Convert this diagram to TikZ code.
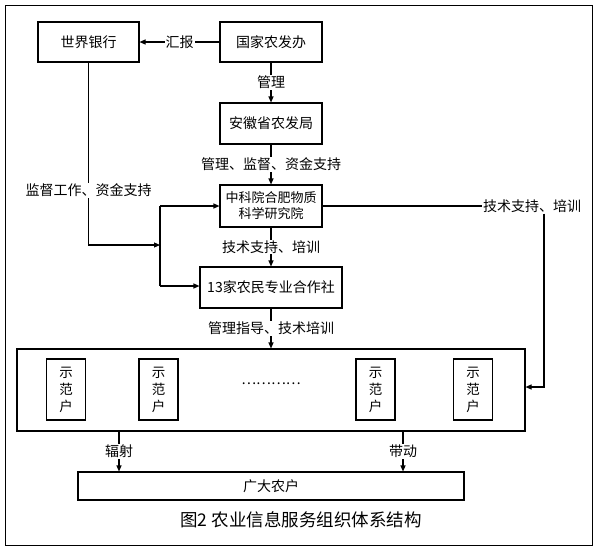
\documentclass[tikz,border=0pt]{standalone}
\usepackage{fontspec}
\setmainfont{Noto Sans CJK SC}
\usetikzlibrary{arrows.meta,positioning}

\begin{document}
\begin{tikzpicture}[x=1pt,y=-1pt,box/.style={draw,line width=1.1pt,inner sep=0pt,font=\fontsize{14}{16}\selectfont},lbl/.style={fill=white,inner sep=1pt,font=\fontsize{14}{16}\selectfont},arr/.style={line width=1.1pt,-{Triangle[length=6pt,width=5pt]}},demo/.style={draw,line width=1.1pt,minimum width=39pt,minimum height=61pt,inner sep=0pt,align=center,font=\fontsize{13.5}{17}\selectfont}]
\useasboundingbox (0,0) rectangle (597,550);
\draw[line width=0.8pt] (5,5) rectangle (592,545);
\node[box,minimum width=101pt,minimum height=40pt] (wb) at (88.5,42) {世界银行};
\node[box,minimum width=102pt,minimum height=40pt] (nat) at (271,42) {国家农发办};
\node[box,minimum width=102pt,minimum height=41pt] (ah) at (271,123.5) {安徽省农发局};
\node[box,minimum width=102pt,minimum height=42pt,align=center,font=\fontsize{13}{16}\selectfont] (cas) at (271,206) {中科院合肥物质\\科学研究院};
\node[box,minimum width=142pt,minimum height=41pt] (coop) at (271,287.5) {13家农民专业合作社};
\node[box,minimum width=508pt,minimum height=82pt] (all) at (271,390) {};
\node[demo] (d1) at (66,389.5) {示\\范\\户};
\node[demo] (d2) at (158.5,389.5) {示\\范\\户};
\node[demo] (d3) at (375.5,389.5) {示\\范\\户};
\node[demo] (d4) at (473,389.5) {示\\范\\户};
\node[font=\fontsize{14}{16}\selectfont] (dots) at (271,384) {…………};
\node[box,minimum width=386pt,minimum height=28pt] (farm) at (271,486) {广大农户};
\node[font=\fontsize{17.5}{20}\selectfont] (cap) at (301,520) {图2 农业信息服务组织体系结构};
% arrows
\draw[arr] (nat) -- node[lbl]{汇报} (wb);
\draw[arr] (nat) -- node[lbl]{管理} (ah);
\draw[arr] (ah) -- node[lbl]{管理、监督、资金支持} (cas);
\draw[arr] (cas) -- node[lbl]{技术支持、培训} (coop);
\draw[arr] (coop) -- node[lbl]{管理指导、技术培训} (all);
\coordinate (bt) at (160,206);
\coordinate (bb) at (160,286);
\draw[arr] (wb.south) |- node[lbl,pos=0.35]{监督工作、资金支持} (160,245);
\draw[line width=1.1pt] (bt) -- (bb);
\draw[arr] (bt) -- (cas.west);
\draw[arr] (bb) -- (bb -| coop.west);
\node[lbl] (ts) at (532,206) {技术支持、培训};
\coordinate (rc) at (544,387);
\draw[line width=1.1pt] (cas.east) -- (ts.west);
\draw[arr] (ts.south -| rc) -- (rc) -- (rc -| all.east);
\draw[arr] ([xshift=-152pt]all.south) -- node[lbl]{辐射} ([xshift=-152pt]farm.north);
\draw[arr] ([xshift=132pt]all.south) -- node[lbl]{带动} ([xshift=132pt]farm.north);
\end{tikzpicture}
\end{document}
